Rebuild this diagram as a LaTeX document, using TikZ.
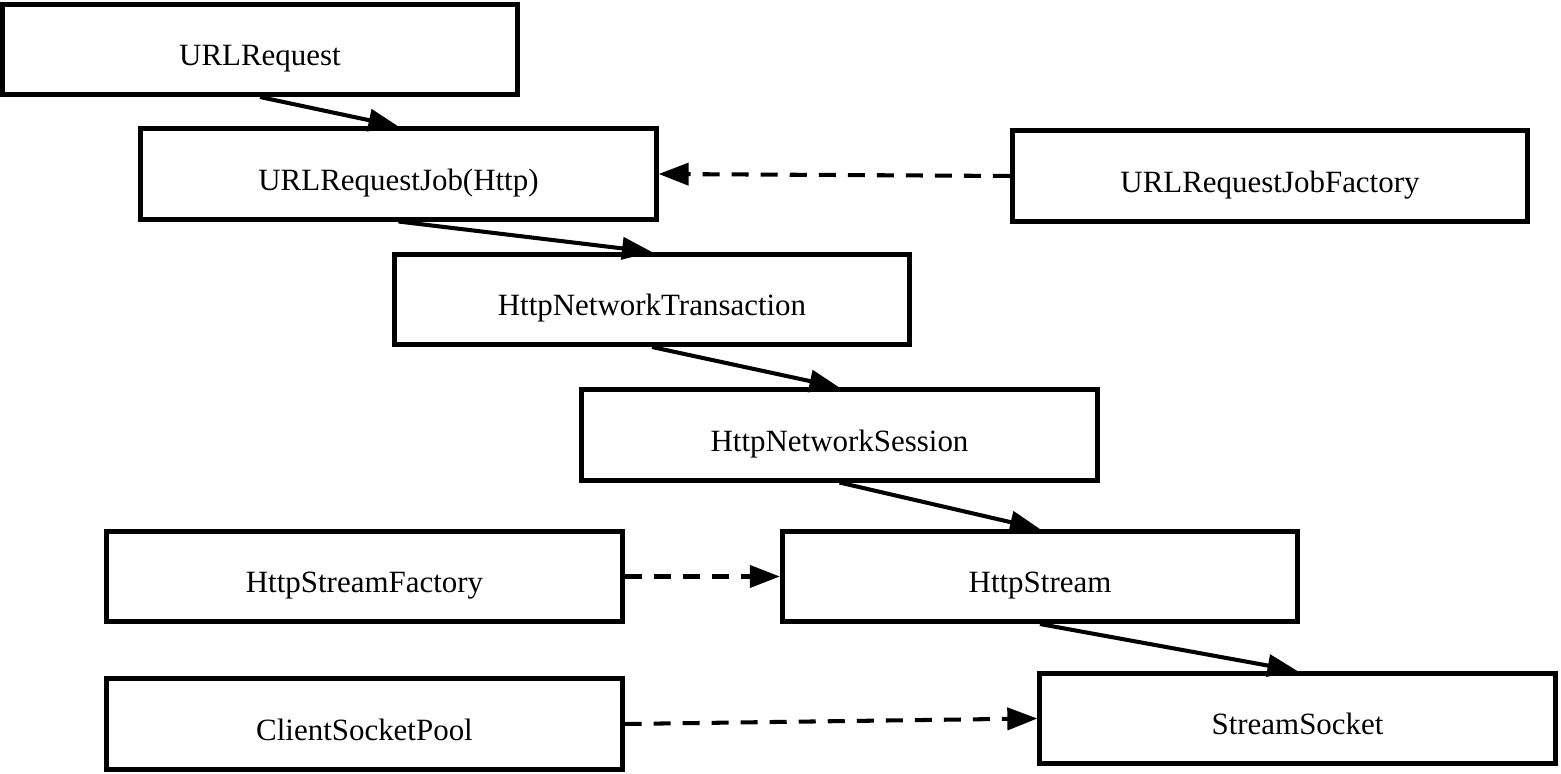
\documentclass[tikz,border=0pt]{standalone}
\usepackage{fontspec}
\setmainfont{Liberation Serif}
\usetikzlibrary{arrows.meta}

\begin{document}
\begin{tikzpicture}[x=0.01cm,y=-0.01cm]
\tikzset{box/.style = {shape=rectangle,draw,line width=1.42pt,minimum width=5.15cm,minimum height=0.9cm,text height=2ex,text depth=0pt,font=\fontsize{8.8}{10}\selectfont}}
\tikzset{edge/.style = {line width=1.15pt,-{Triangle[length=0.3cm,width=0.22cm]}}}
\tikzset{uses/.style = {edge,dash pattern=on 0.17cm off 0.12cm}}
\useasboundingbox (0,0) rectangle (1561,774);
% boxes
\node[box] (req)     at (260, 49.5)   {URLRequest};
\node[box] (job)     at (398.5, 174)  {URLRequestJob(Http)};
\node[box] (jobfac)  at (1270, 176)   {URLRequestJobFactory};
\node[box] (trans)   at (652, 299.5)  {HttpNetworkTransaction};
\node[box] (session) at (839.5, 435)  {HttpNetworkSession};
\node[box] (strfac)  at (364.5, 576.5) {HttpStreamFactory};
\node[box] (stream)  at (1040, 576.5) {HttpStream};
\node[box] (pool)    at (364.5, 724)  {ClientSocketPool};
\node[box] (socket)  at (1297.5, 718.5) {StreamSocket};
% edges
\draw[edge] (req.south) to (job.north);
\draw[edge] (job.south) to (trans.north);
\draw[edge] (trans.south) to (session.north);
\draw[edge] (session.south) to (stream.north);
\draw[edge] (stream.south) to (socket.north);
\draw[uses] (jobfac.west) to (job.east);
\draw[uses] (strfac.east) to (stream.west);
\draw[uses] (pool.east) to (socket.west);
\end{tikzpicture}
\end{document}
